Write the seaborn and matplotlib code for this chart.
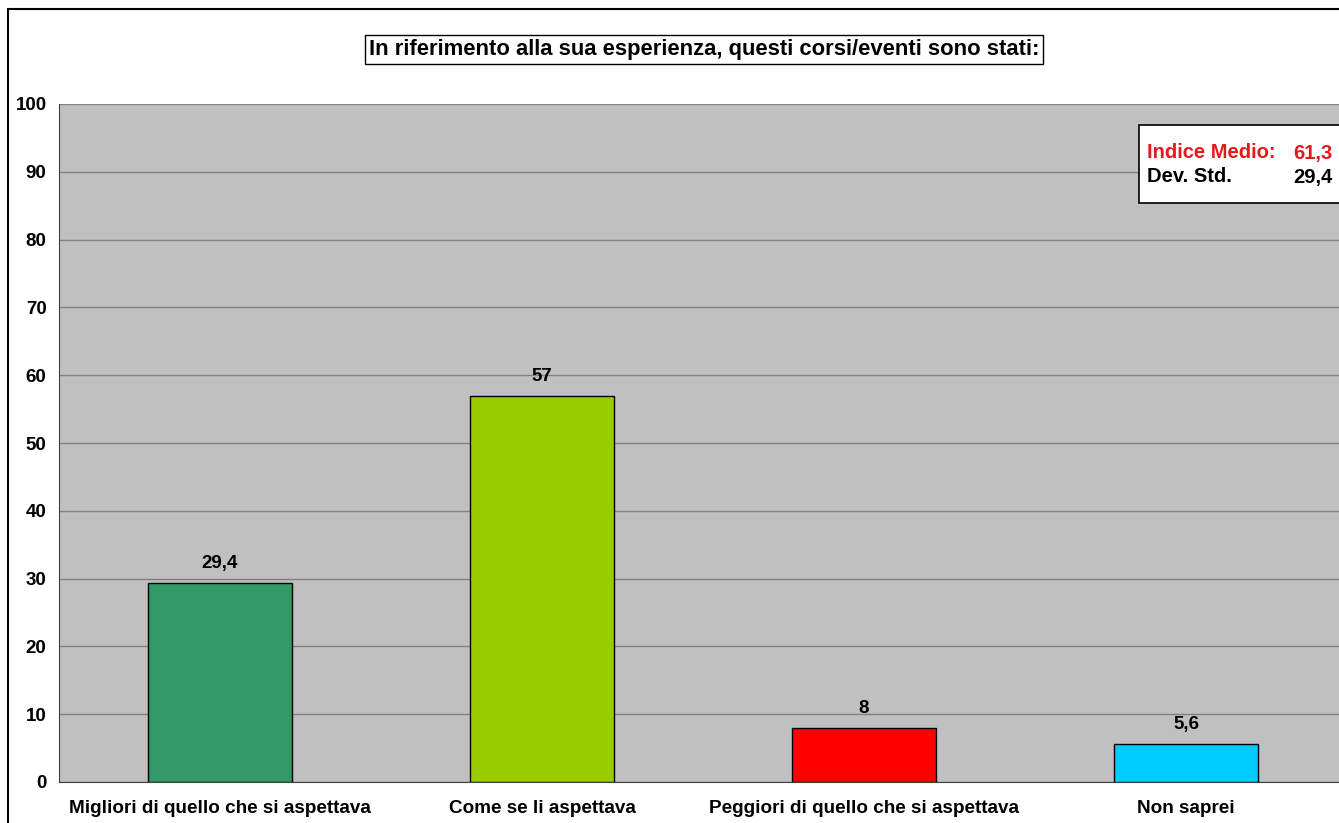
import pandas as pd
import matplotlib
matplotlib.use('Agg')
from matplotlib import pyplot as plt
from matplotlib.patches import Rectangle
import seaborn as sns

# dati
categorie = ['Migliori di quello che si aspettava', 'Come se li aspettava',
             'Peggiori di quello che si aspettava', 'Non saprei']
valori = [29.4, 57, 8, 5.6]
etichette = ['29,4', '57', '8', '5,6']
colori = ['#339966', '#99CC00', '#FF0000', '#00CCFF']
titolo = 'In riferimento alla sua esperienza, questi corsi/eventi sono stati:'
indice_medio = '61,3'
dev_std = '29,4'

df = pd.DataFrame({'categoria': categorie, 'valore': valori})

sns.set_style('white')
plt.rcParams['font.family'] = ['Liberation Sans', 'DejaVu Sans']
plt.rcParams['font.weight'] = 'bold'
plt.rcParams['text.color'] = 'black'
plt.rcParams['xtick.color'] = 'black'
plt.rcParams['ytick.color'] = 'black'

fig = plt.figure(figsize=(13.39, 8.23), dpi=100)
ax = fig.add_axes([59 / 1339, 41 / 823, 1288 / 1339, 678 / 823])
ax.set_facecolor('#C0C0C0')

sns.barplot(data=df, x='categoria', y='valore', hue='categoria', palette=colori,
            saturation=1, legend=False, width=0.45, edgecolor='black', linewidth=1,
            ax=ax, zorder=3)

ax.set_ylim(0, 100)
ax.set_xlim(-0.5, 3.5)
ax.set_yticks(range(0, 101, 10))
ax.yaxis.grid(True, color='#808080', linewidth=1, zorder=0)
ax.set_axisbelow(True)
ax.set_xlabel('')
ax.set_ylabel('')

# tick x ai bordi delle categorie
ax.set_xticks([0, 1, 2, 3])
ax.set_xticklabels(categorie, fontsize=13.6, fontweight='bold')
ax.set_xticks([-0.5, 0.5, 1.5, 2.5, 3.5], minor=True)
ax.tick_params(axis='x', which='major', length=0, pad=13)
ax.tick_params(axis='x', which='minor', length=5, width=1, color='#404040', direction='out')
ax.tick_params(axis='y', length=5, width=1, color='#404040', direction='out', labelsize=13.5, pad=4)
for t in ax.get_yticklabels():
    t.set_fontweight('bold')

for s in ['top', 'right']:
    ax.spines[s].set_visible(False)
ax.spines['left'].set_color('#404040')
ax.spines['bottom'].set_color('#404040')

for i, (v, lab) in enumerate(zip(valori, etichette)):
    ax.text(i, v + 1.6, lab, ha='center', va='bottom', fontsize=13.5, fontweight='bold')

# titolo in riquadro
fig.text(704 / 1339, 1 - 49.5 / 823, titolo, ha='center', va='center', fontsize=15.8,
         fontweight='bold',
         bbox=dict(boxstyle='square,pad=0.18', facecolor='white', edgecolor='black', linewidth=1))

# riquadro indice medio
fig.add_artist(Rectangle((1139 / 1339, 1 - 203 / 823), 0.2, 78 / 823, transform=fig.transFigure,
                         facecolor='white', edgecolor='black', linewidth=1.2, zorder=5))
fig.text(1147 / 1339, 1 - 153 / 823, 'Indice Medio:', color='#E31A1C', fontsize=14.5,
         fontweight='bold', va='center', zorder=6)
fig.text(1333 / 1339, 1 - 153 / 823, indice_medio, color='#E31A1C', fontsize=14.5,
         fontweight='bold', va='center', ha='right', zorder=6)
fig.text(1147 / 1339, 1 - 177 / 823, 'Dev. Std.', color='black', fontsize=14.5,
         fontweight='bold', va='center', zorder=6)
fig.text(1333 / 1339, 1 - 177 / 823, dev_std, color='black', fontsize=14.5,
         fontweight='bold', va='center', ha='right', zorder=6)

# bordo esterno
fig.add_artist(Rectangle((8 / 1339, -0.1), 1.2, 1.1 - 9 / 823, transform=fig.transFigure,
                         facecolor='none', edgecolor='black', linewidth=1.5))

fig.savefig('out.png', dpi=100)
